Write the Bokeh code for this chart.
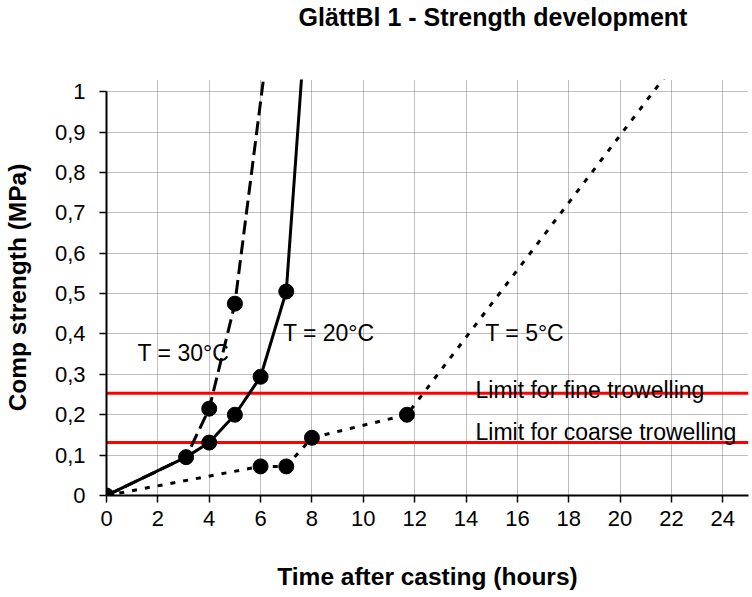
from bokeh.plotting import figure
from bokeh.models import FixedTicker, Range1d, Label, Title
from bokeh.embed import file_html
from bokeh.resources import INLINE

# ---- data ----
x_ticks = [0, 2, 4, 6, 8, 10, 12, 14, 16, 18, 20, 22, 24]
y_ticks = [0, 0.1, 0.2, 0.3, 0.4, 0.5, 0.6, 0.7, 0.8, 0.9, 1.0]
y_tick_labels = ["0", "0,1", "0,2", "0,3", "0,4", "0,5", "0,6", "0,7", "0,8", "0,9", "1"]

# measured points
hours_30 = [3.1, 4, 5]
strength_30 = [0.095, 0.215, 0.475]
hours_20 = [0, 4, 5, 6, 7]
strength_20 = [0.0, 0.131, 0.2, 0.294, 0.505]
hours_5 = [6, 7, 8, 11.7]
strength_5 = [0.072, 0.072, 0.143, 0.2]

# development curves (measured points + extrapolation beyond the top)
curve_hours_30 = [0, 3.1, 4, 5, 6.25]
curve_strength_30 = [0.0, 0.095, 0.215, 0.475, 1.1]
curve_hours_20 = [0, 3.1, 4, 5, 6, 7, 7.67]
curve_strength_20 = [0.0, 0.095, 0.131, 0.2, 0.294, 0.505, 1.1]
curve_hours_5 = [0, 6, 7, 8, 11.7, 22.5]
curve_strength_5 = [0.0, 0.072, 0.072, 0.143, 0.2, 1.1]

limit_fine = 0.253
limit_coarse = 0.131

FONT = "Liberation Sans"

p = figure(width=750, height=592, output_backend="svg", toolbar_location=None,
           x_range=Range1d(0, 25), y_range=Range1d(0, 1.03),
           min_border_left=106, min_border_right=2, min_border_top=79, min_border_bottom=95)
p.outline_line_color = None
p.background_fill_color = "white"
p.border_fill_color = "white"

main_title = Title(text="GlättBl 1 - Strength development", align="left", offset=192,
                   vertical_align="top", standoff=0,
                   text_font=FONT, text_font_size="25px", text_font_style="bold",
                   text_color="black")
spacer = Title(text=" ", text_font=FONT, text_font_size="10px", standoff=34,
               text_color="white")
p.add_layout(spacer, "above")
p.add_layout(main_title, "above")

# axes
p.xaxis.ticker = FixedTicker(ticks=x_ticks)
p.yaxis.ticker = FixedTicker(ticks=y_ticks)
p.yaxis.major_label_overrides = {t: l for t, l in zip(y_ticks, y_tick_labels)}
p.yaxis.bounds = (0, 1)
for ax in (p.xaxis, p.yaxis):
    ax.axis_line_color = "black"
    ax.axis_line_width = 2
    ax.major_tick_line_color = "black"
    ax.major_tick_line_width = 1.5
    ax.major_tick_out = 7
    ax.major_tick_in = 0
    ax.minor_tick_line_color = None
    ax.major_label_text_font = FONT
    ax.major_label_text_font_size = "22px"
    ax.major_label_text_color = "black"
    ax.axis_label_text_font = FONT
    ax.axis_label_text_font_size = "24.5px"
    ax.axis_label_text_font_style = "bold"
    ax.axis_label_text_color = "black"
p.xaxis.axis_label = "Time after casting (hours)"
p.yaxis.axis_label = "Comp strength (MPa)"
p.xaxis.major_label_standoff = 8
p.yaxis.major_label_standoff = 14
p.xaxis.axis_label_standoff = 34
p.yaxis.axis_label_standoff = 21

for g in (p.xgrid, p.ygrid):
    g.grid_line_color = "#7f7f7f"
    g.grid_line_dash = "1 1"
    g.grid_line_width = 1

# limit lines
p.line([0, 25], [limit_fine, limit_fine], line_color="#ff0000", line_width=3)
p.line([0, 25], [limit_coarse, limit_coarse], line_color="#ff0000", line_width=3)

# curves
p.line(curve_hours_30, curve_strength_30, line_color="black", line_width=3, line_dash="14 6")
p.line(curve_hours_20, curve_strength_20, line_color="black", line_width=3)
p.line(curve_hours_5, curve_strength_5, line_color="black", line_width=3, line_dash="5 8")

# markers
p.scatter(hours_30, strength_30, size=15, color="black")
p.scatter(hours_20, strength_20, size=15, color="black")
p.scatter(hours_5, strength_5, size=15, color="black")

# annotations
for (x, y, t) in [(1.21, 0.3525, "T = 30°C"), (6.87, 0.402, "T = 20°C"),
                  (14.75, 0.402, "T = 5°C"),
                  (14.37, 0.26, "Limit for fine trowelling"),
                  (14.37, 0.158, "Limit for coarse trowelling")]:
    p.add_layout(Label(x=x, y=y, text=t, text_font=FONT, text_font_size="23px",
                       text_color="black", text_align="left", text_baseline="alphabetic"))

open("out.html", "w").write(file_html(p, INLINE))
